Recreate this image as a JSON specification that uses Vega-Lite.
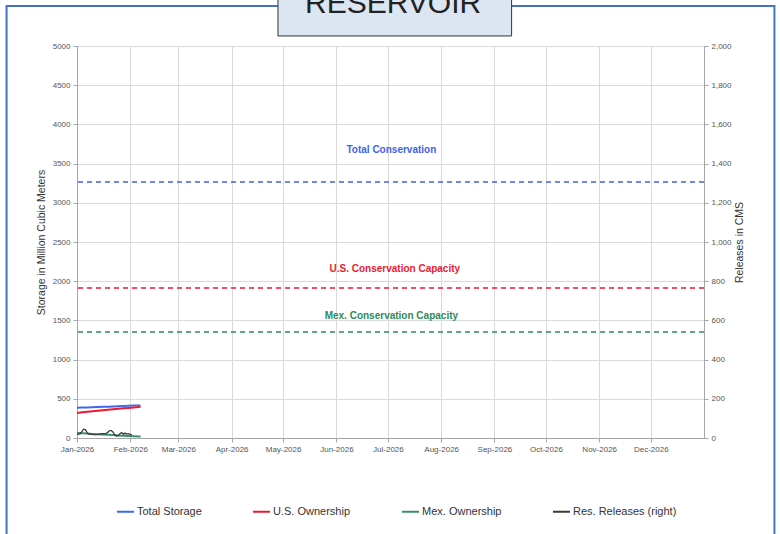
{
  "$schema": "https://vega.github.io/schema/vega-lite/v6.json",
  "width": 627,
  "height": 392,
  "autosize": {"type": "none"},
  "padding": {"left": 77, "top": 46, "right": 76, "bottom": 96},
  "background": "white",
  "config": {
    "view": {"stroke": null},
    "font": "Liberation Sans",
    "axis": {
      "labelFont": "Liberation Sans",
      "labelFontSize": 8,
      "labelColor": "#555555",
      "labelOverlap": false,
      "labelFlush": false,
      "titleFont": "Liberation Sans",
      "titleFontSize": 10.5,
      "titleFontWeight": "normal",
      "titleColor": "#333333",
      "gridColor": "#d9d9d9",
      "domainColor": "#a6a6a6",
      "tickColor": "#a6a6a6",
      "tickSize": 4,
      "labelPadding": 3
    }
  },
  "datasets": {
    "one": [{}],
    "storage": [
      {"date": "2026-01-01", "series": "Total Storage", "value": 386},
      {"date": "2026-01-04", "series": "Total Storage", "value": 388},
      {"date": "2026-01-07", "series": "Total Storage", "value": 390},
      {"date": "2026-01-10", "series": "Total Storage", "value": 393},
      {"date": "2026-01-13", "series": "Total Storage", "value": 395},
      {"date": "2026-01-16", "series": "Total Storage", "value": 398},
      {"date": "2026-01-19", "series": "Total Storage", "value": 400},
      {"date": "2026-01-22", "series": "Total Storage", "value": 403},
      {"date": "2026-01-25", "series": "Total Storage", "value": 405},
      {"date": "2026-01-28", "series": "Total Storage", "value": 408},
      {"date": "2026-01-31", "series": "Total Storage", "value": 410},
      {"date": "2026-02-03", "series": "Total Storage", "value": 413},
      {"date": "2026-02-07", "series": "Total Storage", "value": 416},
      {"date": "2026-01-01", "series": "U.S. Ownership", "value": 320},
      {"date": "2026-01-04", "series": "U.S. Ownership", "value": 327},
      {"date": "2026-01-07", "series": "U.S. Ownership", "value": 334},
      {"date": "2026-01-10", "series": "U.S. Ownership", "value": 341},
      {"date": "2026-01-13", "series": "U.S. Ownership", "value": 348},
      {"date": "2026-01-16", "series": "U.S. Ownership", "value": 354},
      {"date": "2026-01-19", "series": "U.S. Ownership", "value": 360},
      {"date": "2026-01-22", "series": "U.S. Ownership", "value": 366},
      {"date": "2026-01-25", "series": "U.S. Ownership", "value": 372},
      {"date": "2026-01-28", "series": "U.S. Ownership", "value": 378},
      {"date": "2026-01-31", "series": "U.S. Ownership", "value": 384},
      {"date": "2026-02-03", "series": "U.S. Ownership", "value": 390},
      {"date": "2026-02-07", "series": "U.S. Ownership", "value": 397},
      {"date": "2026-01-01", "series": "Mex. Ownership", "value": 66},
      {"date": "2026-01-04", "series": "Mex. Ownership", "value": 61},
      {"date": "2026-01-07", "series": "Mex. Ownership", "value": 56},
      {"date": "2026-01-10", "series": "Mex. Ownership", "value": 52},
      {"date": "2026-01-13", "series": "Mex. Ownership", "value": 47},
      {"date": "2026-01-16", "series": "Mex. Ownership", "value": 44},
      {"date": "2026-01-19", "series": "Mex. Ownership", "value": 40},
      {"date": "2026-01-22", "series": "Mex. Ownership", "value": 37},
      {"date": "2026-01-25", "series": "Mex. Ownership", "value": 33},
      {"date": "2026-01-28", "series": "Mex. Ownership", "value": 30},
      {"date": "2026-01-31", "series": "Mex. Ownership", "value": 26},
      {"date": "2026-02-03", "series": "Mex. Ownership", "value": 23},
      {"date": "2026-02-07", "series": "Mex. Ownership", "value": 19}
    ],
    "releases": [
      {"date": "2026-01-01", "series": "Res. Releases (right)", "value": 18},
      {"date": "2026-01-02", "series": "Res. Releases (right)", "value": 20},
      {"date": "2026-01-03", "series": "Res. Releases (right)", "value": 22},
      {"date": "2026-01-04", "series": "Res. Releases (right)", "value": 35},
      {"date": "2026-01-05", "series": "Res. Releases (right)", "value": 45},
      {"date": "2026-01-06", "series": "Res. Releases (right)", "value": 42},
      {"date": "2026-01-07", "series": "Res. Releases (right)", "value": 25},
      {"date": "2026-01-08", "series": "Res. Releases (right)", "value": 20},
      {"date": "2026-01-09", "series": "Res. Releases (right)", "value": 18},
      {"date": "2026-01-10", "series": "Res. Releases (right)", "value": 18},
      {"date": "2026-01-11", "series": "Res. Releases (right)", "value": 17},
      {"date": "2026-01-12", "series": "Res. Releases (right)", "value": 17},
      {"date": "2026-01-13", "series": "Res. Releases (right)", "value": 18},
      {"date": "2026-01-14", "series": "Res. Releases (right)", "value": 20},
      {"date": "2026-01-15", "series": "Res. Releases (right)", "value": 22},
      {"date": "2026-01-16", "series": "Res. Releases (right)", "value": 22},
      {"date": "2026-01-17", "series": "Res. Releases (right)", "value": 22},
      {"date": "2026-01-18", "series": "Res. Releases (right)", "value": 24},
      {"date": "2026-01-19", "series": "Res. Releases (right)", "value": 30},
      {"date": "2026-01-20", "series": "Res. Releases (right)", "value": 38},
      {"date": "2026-01-21", "series": "Res. Releases (right)", "value": 38},
      {"date": "2026-01-22", "series": "Res. Releases (right)", "value": 30},
      {"date": "2026-01-23", "series": "Res. Releases (right)", "value": 15},
      {"date": "2026-01-24", "series": "Res. Releases (right)", "value": 10},
      {"date": "2026-01-25", "series": "Res. Releases (right)", "value": 12},
      {"date": "2026-01-26", "series": "Res. Releases (right)", "value": 22},
      {"date": "2026-01-27", "series": "Res. Releases (right)", "value": 28},
      {"date": "2026-01-28", "series": "Res. Releases (right)", "value": 20},
      {"date": "2026-01-29", "series": "Res. Releases (right)", "value": 25},
      {"date": "2026-01-30", "series": "Res. Releases (right)", "value": 20},
      {"date": "2026-01-31", "series": "Res. Releases (right)", "value": 22},
      {"date": "2026-02-01", "series": "Res. Releases (right)", "value": 18},
      {"date": "2026-02-02", "series": "Res. Releases (right)", "value": 16}
    ]
  },
  "layer": [
    {
      "data": {"name": "storage"},
      "mark": {"type": "line", "strokeWidth": 2},
      "encoding": {
        "x": {
          "field": "date",
          "type": "temporal",
          "scale": {"type": "utc", "domain": [{"year": 2026, "month": 1, "date": 1, "utc": true}, {"year": 2027, "month": 1, "date": 1, "utc": true}]},
          "axis": {
            "title": null,
            "format": "%b-%Y",
            "grid": true,
            "values": [
              {"year": 2026, "month": 1, "date": 1, "utc": true},
              {"year": 2026, "month": 2, "date": 1, "utc": true},
              {"year": 2026, "month": 3, "date": 1, "utc": true},
              {"year": 2026, "month": 4, "date": 1, "utc": true},
              {"year": 2026, "month": 5, "date": 1, "utc": true},
              {"year": 2026, "month": 6, "date": 1, "utc": true},
              {"year": 2026, "month": 7, "date": 1, "utc": true},
              {"year": 2026, "month": 8, "date": 1, "utc": true},
              {"year": 2026, "month": 9, "date": 1, "utc": true},
              {"year": 2026, "month": 10, "date": 1, "utc": true},
              {"year": 2026, "month": 11, "date": 1, "utc": true},
              {"year": 2026, "month": 12, "date": 1, "utc": true}
            ]
          }
        },
        "y": {
          "field": "value",
          "type": "quantitative",
          "scale": {"domain": [0, 5000]},
          "axis": {
            "title": "Storage in Million Cubic Meters",
            "values": [0, 500, 1000, 1500, 2000, 2500, 3000, 3500, 4000, 4500, 5000],
            "format": "d",
            "grid": true,
            "titlePadding": 6
          }
        },
        "color": {
          "field": "series",
          "type": "nominal",
          "scale": {
            "domain": ["Total Storage", "U.S. Ownership", "Mex. Ownership", "Res. Releases (right)"],
            "range": ["#3f66f2", "#f01830", "#3a8f6e", "#3a3a3a"]
          },
          "legend": {
            "title": null,
            "orient": "none",
            "legendX": 39,
            "legendY": 456,
            "direction": "horizontal",
            "columns": 4,
            "symbolType": "stroke",
            "symbolSize": 289,
            "symbolStrokeWidth": 2,
            "labelFontSize": 11,
            "labelColor": "#333333",
            "labelOffset": 2,
            "columnPadding": 47
          }
        }
      }
    },
    {
      "layer": [
        {
          "data": {"name": "one"},
          "mark": {"type": "rect", "clip": false, "fill": null, "stroke": "#4472c4", "strokeWidth": 2},
          "encoding": {
            "x": {"datum": {"year": 2025, "month": 11, "date": 21, "utc": true}, "type": "temporal"},
            "x2": {"datum": {"year": 2027, "month": 2, "date": 11, "utc": true}},
            "y": {"datum": 5510, "type": "quantitative", "scale": {"domain": [0, 5000]}, "axis": null},
            "y2": {"datum": -2000}
          }
        },
        {
          "data": {"name": "one"},
          "mark": {"type": "rect", "clip": false, "fill": "#dce6f2", "stroke": "#333333", "strokeWidth": 1},
          "encoding": {
            "x": {"datum": {"year": 2026, "month": 4, "date": 28, "utc": true}, "type": "temporal"},
            "x2": {"datum": {"year": 2026, "month": 9, "date": 11, "utc": true}},
            "y": {"datum": 5800, "type": "quantitative"},
            "y2": {"datum": 5128}
          }
        },
        {
          "data": {"name": "one"},
          "mark": {"type": "text", "clip": false, "fontSize": 30, "font": "Liberation Sans", "color": "#222222", "baseline": "alphabetic", "align": "center"},
          "encoding": {
            "x": {"datum": {"year": 2026, "month": 7, "date": 4, "utc": true}, "type": "temporal"},
            "y": {"datum": 5421, "type": "quantitative"},
            "text": {"value": "RESERVOIR"}
          }
        },
        {
          "data": {"name": "one"},
          "mark": {"type": "rule", "color": "#3d63f0", "strokeDash": [5, 4], "strokeWidth": 1.3},
          "encoding": {"y": {"datum": 3265, "type": "quantitative"}}
        },
        {
          "data": {"name": "one"},
          "mark": {"type": "rule", "color": "#f01830", "strokeDash": [5, 4], "strokeWidth": 1.5},
          "encoding": {"y": {"datum": 1913, "type": "quantitative"}}
        },
        {
          "data": {"name": "one"},
          "mark": {"type": "rule", "color": "#2e8b57", "strokeDash": [5, 4], "strokeWidth": 1.3},
          "encoding": {"y": {"datum": 1352, "type": "quantitative"}}
        },
        {
          "data": {"name": "one"},
          "mark": {"type": "text", "fontSize": 10, "fontWeight": "bold", "color": "#3d63f0", "baseline": "middle"},
          "encoding": {
            "x": {"datum": {"year": 2026, "month": 7, "date": 3, "utc": true}, "type": "temporal"},
            "y": {"datum": 3673, "type": "quantitative"},
            "text": {"value": "Total Conservation"}
          }
        },
        {
          "data": {"name": "one"},
          "mark": {"type": "text", "fontSize": 10, "fontWeight": "bold", "color": "#f01830", "baseline": "middle"},
          "encoding": {
            "x": {"datum": {"year": 2026, "month": 7, "date": 5, "utc": true}, "type": "temporal"},
            "y": {"datum": 2156, "type": "quantitative"},
            "text": {"value": "U.S. Conservation Capacity"}
          }
        },
        {
          "data": {"name": "one"},
          "mark": {"type": "text", "fontSize": 10, "fontWeight": "bold", "color": "#2e8b57", "baseline": "middle"},
          "encoding": {
            "x": {"datum": {"year": 2026, "month": 7, "date": 3, "utc": true}, "type": "temporal"},
            "y": {"datum": 1556, "type": "quantitative"},
            "text": {"value": "Mex. Conservation Capacity"}
          }
        }
      ]
    },
    {
      "data": {"name": "releases"},
      "mark": {"type": "line", "strokeWidth": 1.3},
      "encoding": {
        "x": {"field": "date", "type": "temporal"},
        "y": {
          "field": "value",
          "type": "quantitative",
          "scale": {"domain": [0, 2000]},
          "axis": {
            "orient": "right",
            "title": "Releases in CMS",
            "titleAngle": -90,
            "values": [0, 200, 400, 600, 800, 1000, 1200, 1400, 1600, 1800, 2000],
            "format": ",d",
            "grid": false,
            "titlePadding": 13
          }
        },
        "color": {
          "field": "series",
          "type": "nominal",
          "legend": {
            "title": null,
            "orient": "none",
            "legendX": 39,
            "legendY": 456,
            "direction": "horizontal",
            "columns": 4,
            "symbolType": "stroke",
            "symbolSize": 289,
            "symbolStrokeWidth": 2,
            "labelFontSize": 11,
            "labelColor": "#333333",
            "labelOffset": 2,
            "columnPadding": 47
          }
        }
      }
    }
  ],
  "resolve": {"scale": {"y": "independent"}}
}
